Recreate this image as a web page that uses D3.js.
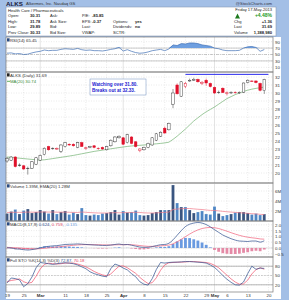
<!DOCTYPE html>
<html>
<head>
<meta charset="utf-8">
<script src="https://cdn.jsdelivr.net/npm/d3@7"></script>
<style>
  body { margin: 0; background: #a3bfe6; }
  svg { display: block; font-family: "Liberation Sans", Arial, sans-serif; }
</style>
</head>
<body>
<svg id="chart" width="289" height="300"></svg>
<script>
// ALKS daily, 19-Feb-2013 .. 17-May-2013 (63 sessions)
const open  = [21.5,21.6,22.0,21.0,20.9,20.6,20.6,21.1,21.6,22.3,23.3,23.1,23.0,22.7,23.3,23.6,23.6,23.2,23.8,23.1,23.2,23.4,23.1,23.2,22.9,23.4,23.9,24.4,24.4,23.8,24.5,23.9,22.8,22.9,23.2,23.5,24.1,24.6,25.6,25.4,28.6,31.0,29.6,30.8,31.5,31.6,31.7,31.2,31.6,31.2,30.7,30.1,30.6,30.0,30.0,30.1,30.0,30.1,31.3,31.5,31.5,31.2,30.31];
const high  = [22.0,22.1,22.1,21.2,21.0,20.8,21.5,22.0,22.3,23.2,23.4,23.2,23.2,23.6,23.9,23.7,23.7,23.9,23.9,23.3,23.4,23.5,23.2,23.3,23.4,24.2,24.6,24.7,24.5,24.9,24.6,24.0,23.1,23.3,23.8,24.5,25.0,25.2,25.8,26.3,30.5,31.2,31.5,31.4,31.8,31.9,31.8,31.5,31.8,31.3,30.8,30.3,30.7,30.2,30.2,30.2,30.2,31.3,31.7,31.6,31.6,31.3,31.78];
const low   = [21.3,21.5,20.7,20.8,20.4,19.8,20.5,21.0,21.5,22.2,22.8,22.9,22.9,22.5,23.2,23.4,23.3,23.1,23.3,22.9,23.1,23.1,22.9,22.9,22.8,23.3,23.8,24.3,23.5,23.7,23.6,23.2,22.6,22.8,23.1,23.4,24.0,24.5,24.9,25.3,28.1,29.8,29.5,30.6,31.4,31.5,31.3,31.0,30.9,30.7,29.9,29.9,30.0,29.7,29.9,29.9,29.9,30.0,31.2,31.4,31.2,30.2,29.89];
const close = [21.8,22.0,20.8,21.0,20.5,20.6,21.4,21.9,22.2,23.1,22.9,23.1,23.05,23.5,23.8,23.5,23.4,23.8,23.3,23.15,23.3,23.2,23.1,23.0,23.3,24.1,24.5,24.6,23.6,24.8,23.7,23.3,23.0,23.2,23.7,24.4,24.9,25.1,25.0,26.2,30.0,29.9,31.4,31.2,31.6,31.7,31.4,31.3,31.25,30.8,30.0,30.1,30.05,30.02,30.1,30.05,30.1,31.25,31.6,31.5,31.3,30.33,31.69];
const ma20  = [22.0,21.95,21.9,21.85,21.8,21.75,21.7,21.65,21.62,21.65,21.72,21.8,21.88,21.96,22.04,22.12,22.2,22.3,22.4,22.5,22.6,22.7,22.78,22.86,22.94,23.02,23.1,23.18,23.25,23.32,23.38,23.42,23.46,23.5,23.55,23.6,23.65,23.7,23.76,23.85,24.2,24.6,25.05,25.5,26.0,26.5,26.9,27.3,27.65,27.95,28.25,28.6,28.95,29.3,29.55,29.8,30.0,30.2,30.35,30.48,30.58,30.66,30.74];

// volume in millions
const volume = [1.5,1.9,2.3,1.4,2.1,2.4,1.6,1.8,2.2,1.9,1.5,2.2,1.4,1.8,2.0,1.3,1.7,1.4,2.6,1.2,1.1,1.3,1.2,1.5,1.6,1.8,2.2,1.3,2.0,1.7,1.8,2.1,1.2,1.1,1.2,1.6,1.8,2.2,2.2,2.2,7.2,3.6,2.8,2.8,2.2,1.6,1.8,2.0,1.4,1.3,2.9,1.5,1.0,1.2,1.4,1.7,1.8,1.8,1.6,1.3,1.5,1.2,1.39];
const volEma = [1.7,1.72,1.74,1.72,1.74,1.78,1.76,1.76,1.8,1.8,1.78,1.8,1.76,1.76,1.78,1.74,1.72,1.7,1.8,1.74,1.68,1.64,1.6,1.6,1.6,1.62,1.68,1.64,1.68,1.68,1.7,1.74,1.7,1.64,1.6,1.6,1.62,1.68,1.72,1.78,2.3,2.4,2.45,2.5,2.5,2.42,2.35,2.3,2.2,2.12,2.1,2.03,1.93,1.85,1.78,1.72,1.66,1.6,1.54,1.47,1.41,1.34,1.28];

const rsi = [54,55,52,53,50,51,55,58,60,64,62,63,63,66,68,67,66,69,65,63,64,62,62,61,63,66,68,72,61,65,60,56,54,55,58,62,64,66,62,67,80,78,84,83,86,86,84,80,78,76,70,68,64,62,62,62,63,70,74,75,72,60,65.45];

const macd   = [0.02,0.0,-0.08,-0.1,-0.15,-0.18,-0.14,-0.08,0.0,0.1,0.14,0.18,0.2,0.25,0.3,0.32,0.33,0.35,0.33,0.3,0.28,0.26,0.24,0.22,0.22,0.25,0.3,0.34,0.28,0.3,0.24,0.16,0.08,0.05,0.06,0.12,0.2,0.28,0.3,0.4,0.7,1.1,1.5,1.85,2.05,2.15,2.2,2.15,2.02,1.82,1.58,1.35,1.12,0.95,0.8,0.68,0.6,0.58,0.56,0.6,0.6,0.5,0.624];
const signal = [0.05,0.04,0.02,0.0,-0.03,-0.06,-0.08,-0.08,-0.06,-0.03,0.01,0.05,0.08,0.12,0.16,0.2,0.23,0.26,0.28,0.29,0.29,0.28,0.28,0.27,0.26,0.26,0.27,0.28,0.28,0.29,0.28,0.25,0.21,0.17,0.14,0.14,0.15,0.18,0.21,0.25,0.36,0.53,0.75,0.98,1.2,1.4,1.56,1.68,1.75,1.77,1.75,1.68,1.57,1.45,1.32,1.2,1.09,1.0,0.93,0.88,0.84,0.78,0.759];
const hist   = [-0.03,-0.04,-0.1,-0.1,-0.12,-0.12,-0.06,0.0,0.06,0.13,0.13,0.13,0.12,0.13,0.14,0.12,0.1,0.09,0.05,0.01,-0.01,-0.02,-0.04,-0.05,-0.04,-0.01,0.03,0.06,0.0,0.01,-0.04,-0.09,-0.13,-0.12,-0.08,-0.02,0.05,0.1,0.09,0.15,0.34,0.57,0.75,0.87,0.85,0.75,0.64,0.47,0.27,0.05,-0.17,-0.33,-0.45,-0.5,-0.52,-0.52,-0.49,-0.42,-0.37,-0.28,-0.24,-0.28,-0.135];

const stoK = [26,42,40,36,14,24,45,75,92,90,88,86,88,90,91,90,88,84,78,72,62,56,52,48,46,72,87,82,74,68,56,46,30,22,19,40,70,92,90,92,93,93,94,95,95,94,93,92,90,84,76,64,50,38,28,20,19,29,56,80,70,74,72.87];
const stoD = [30,34,36,39,30,25,28,48,71,86,90,88,87,88,90,90,90,87,83,78,71,63,57,52,49,55,68,80,81,75,66,57,44,33,24,27,43,67,84,91,92,93,93,94,95,95,94,93,92,89,83,75,63,51,39,29,22,23,35,55,69,75,70.18];

// x axis: session index of each label
const tickIdx    = [0, 4, 8, 14, 19, 24, 28, 33, 38, 43, 48, 50, 53, 58, 63];
const tickLabels = ['19','25','Mar','11','18','25','Apr','8','15','22','29','May','6','13','20'];
const monthIdx   = [8, 28, 50];

const breakout = 32.33;
const breakoutFrom = 43, breakoutTo = 63;

const svg = d3.select('#chart');
const L = 6, R = 273;
const x = d3.scaleLinear().domain([-0.25, 64.1]).range([L, R]);
const idx = d3.range(close.length);
const fs = 4.1;

// white areas
svg.append('rect').attr('x', L).attr('y', 7).attr('width', 270).attr('height', 29)
  .attr('fill', '#fff').attr('stroke', '#8a9bb5').attr('stroke-width', 0.6);
svg.append('rect').attr('x', L).attr('y', 37).attr('width', 275).attr('height', 262).attr('fill', '#fff');

// title row
svg.append('text').attr('x', 6).attr('y', 5.5).attr('font-size', 6.2).attr('font-weight', 'bold')
  .attr('fill', '#1a1a3a').text('ALKS');
svg.append('text').attr('x', 26).attr('y', 5.3).attr('font-size', 4.2).attr('fill', '#333')
  .text('Alkermes, Inc.  Nasdaq GS');
svg.append('text').attr('x', 272).attr('y', 5).attr('font-size', 4.2).attr('fill', '#334')
  .attr('text-anchor', 'end').text('@StockCharts.com');

// info box
const info = svg.append('g').attr('font-size', fs).attr('fill', '#222');
info.append('text').attr('x', 8).attr('y', 11.5).text('Health Care / Pharmaceuticals');
const rowsY = [17, 22.5, 28, 33.5];
const infoCols = [
  {x: 8, vx: 30, items: [['Open:', '30.31'], ['High:', '31.78'], ['Low:', '29.89'], ['Prev Close:', '30.33']]},
  {x: 50, vx: 0, items: [['Ask:', ''], ['Ask Size:', ''], ['Bid:', ''], ['Bid Size:', '']]},
  {x: 82, vx: 92, items: [['P/E:', '-85.85'], ['EPS:', '-0.37'], ['Last:', ''], ['VWAP:', '']]},
  {x: 113, vx: 135, items: [['', ''], ['Options:', 'yes'], ['Dividends:', 'no'], ['SCTR:', '']]}
];
infoCols.forEach(col => {
  col.items.forEach((it, k) => {
    info.append('text').attr('x', col.x).attr('y', rowsY[k]).text(it[0]);
    if (it[1]) info.append('text').attr('x', col.vx).attr('y', rowsY[k]).attr('font-weight', 'bold').text(it[1]);
  });
});
info.append('text').attr('x', 272).attr('y', 11).attr('text-anchor', 'end').text('Friday 17-May-2013');
info.append('path').attr('d', 'M235,18.5 L237.5,13.5 L240,18.5 Z').attr('fill', '#1e7a1e');
info.append('text').attr('x', 272).attr('y', 17).attr('text-anchor', 'end').attr('font-weight', 'bold')
  .attr('fill', '#1e9a1e').attr('font-size', 5).text('+4.48%');
[['Chg', '+1.36'], ['Last', '31.69'], ['Volume', '1,388,980']].forEach((r, k) => {
  info.append('text').attr('x', 234).attr('y', 22.5 + k * 5.5).text(r[0]);
  info.append('text').attr('x', 272).attr('y', 22.5 + k * 5.5).attr('text-anchor', 'end')
    .attr('font-weight', 'bold').text(r[1]);
});

// panels
function makePanel(top, bottom, domain, ticks, fmt, grid) {
  const y = d3.scaleLinear().domain(domain).range([bottom, top]);
  const g = svg.append('g');
  // vertical grid
  tickIdx.forEach(t => {
    const isMonth = monthIdx.includes(t);
    g.append('line').attr('x1', x(t)).attr('x2', x(t)).attr('y1', top).attr('y2', bottom)
      .attr('stroke', isMonth ? '#c8c8c8' : '#d4d4d4').attr('stroke-width', 0.5)
      .attr('stroke-dasharray', isMonth ? null : '1,1.5');
  });
  (grid || ticks).forEach(v => {
    g.append('line').attr('x1', L).attr('x2', R).attr('y1', y(v)).attr('y2', y(v))
      .attr('stroke', '#d4d4d4').attr('stroke-width', 0.5).attr('stroke-dasharray', '1,1.5');
  });
  const ax = d3.axisRight(y).tickValues(ticks).tickSize(0).tickPadding(2).tickFormat(fmt);
  const a = svg.append('g').attr('transform', `translate(${R},0)`).call(ax);
  a.select('.domain').remove();
  a.selectAll('text').attr('font-size', 4.4).attr('fill', '#333').attr('font-family', 'Liberation Sans, Arial, sans-serif');
  const frame = () => svg.append('rect').attr('x', L).attr('y', top).attr('width', R - L).attr('height', bottom - top)
    .attr('fill', 'none').attr('stroke', '#7a7a7a').attr('stroke-width', 0.7);
  return {y, g, frame, top};
}

function legend(g, top, parts, icon) {
  const t = g.append('text').attr('x', 10).attr('y', top + 4.6).attr('font-size', 4.3);
  parts.forEach(p => t.append('tspan').attr('fill', p[1]).text(p[0]));
  g.append('rect').attr('x', 7).attr('y', top + 1.3).attr('width', 2.6).attr('height', 3.2).attr('fill', icon || '#2a4a80');
}

// ---- RSI
const pR = makePanel(37, 72, [-4.7, 104.7], [10, 30, 50, 70, 90], d3.format('d'));
[70, 30].forEach(v => pR.g.append('line').attr('x1', L).attr('x2', R).attr('y1', pR.y(v)).attr('y2', pR.y(v))
  .attr('stroke', '#999').attr('stroke-width', 0.5));
pR.g.append('line').attr('x1', L).attr('x2', R).attr('y1', pR.y(50)).attr('y2', pR.y(50))
  .attr('stroke', '#999').attr('stroke-width', 0.5).attr('stroke-dasharray', '3,1,1,1');
pR.g.append('path').datum(idx)
  .attr('d', d3.area().x(i => x(i)).y0(pR.y(70)).y1(i => pR.y(Math.max(rsi[i], 70))))
  .attr('fill', '#6e9fe0');
pR.g.append('path').datum(idx)
  .attr('d', d3.line().x(i => x(i)).y(i => pR.y(rsi[i])))
  .attr('fill', 'none').attr('stroke', '#4170b5').attr('stroke-width', 0.7);
legend(pR.g, 37, [['RSI(14) 65.45', '#333']]);
pR.frame();

// ---- Price
const pP = makePanel(72, 183, [18.75, 32.625], d3.range(20, 33), d3.format('d'));
pP.g.append('path').datum(idx)
  .attr('d', d3.line().x(i => x(i)).y(i => pP.y(ma20[i])))
  .attr('fill', 'none').attr('stroke', '#5aa55a').attr('stroke-width', 0.6);
const bw = 2.6;
const candles = pP.g.selectAll('g.c').data(idx).enter().append('g');
const isUp = i => close[i] >= (i ? close[i - 1] : open[i]);
const col = i => isUp(i) ? '#333' : '#e0102a';
candles.append('line')
  .attr('x1', i => x(i)).attr('x2', i => x(i))
  .attr('y1', i => pP.y(high[i])).attr('y2', i => pP.y(low[i]))
  .attr('stroke', col).attr('stroke-width', 0.5);
candles.append('rect')
  .attr('x', i => x(i) - bw / 2).attr('width', bw)
  .attr('y', i => pP.y(Math.max(open[i], close[i])))
  .attr('height', i => Math.max(0.5, Math.abs(pP.y(open[i]) - pP.y(close[i]))))
  .attr('fill', i => close[i] > open[i] ? '#fff' : (isUp(i) ? '#333' : '#e0102a'))
  .attr('stroke', col).attr('stroke-width', 0.45);
pP.g.append('line')
  .attr('x1', x(breakoutFrom)).attr('x2', x(breakoutTo))
  .attr('y1', pP.y(breakout)).attr('y2', pP.y(breakout))
  .attr('stroke', '#2a2aee').attr('stroke-width', 1);
const note = pP.g.append('g');
note.append('rect').attr('x', 90).attr('y', 79).attr('width', 56).attr('height', 16)
  .attr('fill', '#fff').attr('stroke', '#7090c0').attr('stroke-width', 0.5);
note.append('text').attr('x', 92).attr('y', 85.5).attr('font-size', 4.6).attr('fill', '#1a1ad0')
  .attr('font-weight', 'bold').text('Watching over 31.80.');
note.append('text').attr('x', 92).attr('y', 92).attr('font-size', 4.6).attr('fill', '#1a1ad0')
  .attr('font-weight', 'bold').text('Breaks out at 32.33.');
legend(pP.g, 72, [['ALKS (Daily) 31.69', '#333']], '#222');
pP.g.append('line').attr('x1', 7).attr('x2', 10).attr('y1', 81.3).attr('y2', 81.3).attr('stroke', '#3a9a3a').attr('stroke-width', 0.8);
pP.g.append('text').attr('x', 10).attr('y', 82.8).attr('font-size', 4.3).attr('fill', '#3a8a3a').text('MA(20) 30.74');
pP.frame();

// ---- Volume
const pV = makePanel(183, 221, [0, 7.6], [2, 4, 6], d => d + 'M', [2, 4, 6]);
pV.g.selectAll('rect.v').data(idx).enter().append('rect')
  .attr('x', i => x(i) - 1.5).attr('width', 3)
  .attr('y', i => pV.y(volume[i])).attr('height', i => pV.y(0) - pV.y(volume[i]))
  .attr('fill', i => isUp(i) ? '#3a5580' : '#4f86c4')
  .attr('stroke', '#fff').attr('stroke-width', 0.2);
pV.g.append('path').datum(idx)
  .attr('d', d3.line().x(i => x(i)).y(i => pV.y(volEma[i])))
  .attr('fill', 'none').attr('stroke', '#f07a8a').attr('stroke-width', 0.7);
legend(pV.g, 183, [['Volume 1.39M, ', '#333'], ['EMA(20) 1.28M', '#333']]);
pV.frame();

// ---- MACD
const pM = makePanel(221, 257, [-0.78, 2.33], [-0.5, 0, 0.5, 1, 1.5, 2], d3.format('.1f'));
pM.g.append('line').attr('x1', L).attr('x2', R).attr('y1', pM.y(0)).attr('y2', pM.y(0))
  .attr('stroke', '#bbb').attr('stroke-width', 0.4);
pM.g.selectAll('rect.h').data(idx).enter().append('rect')
  .attr('x', i => x(i) - 1.4).attr('width', 2.8)
  .attr('y', i => pM.y(Math.max(0, hist[i])))
  .attr('height', i => Math.abs(pM.y(hist[i]) - pM.y(0)))
  .attr('fill', i => hist[i] >= 0 ? '#6a9ae0' : '#e48aa6');
pM.g.append('path').datum(idx)
  .attr('d', d3.line().curve(d3.curveMonotoneX).x(i => x(i)).y(i => pM.y(signal[i])))
  .attr('fill', 'none').attr('stroke', '#f0607a').attr('stroke-width', 0.7);
pM.g.append('path').datum(idx)
  .attr('d', d3.line().curve(d3.curveMonotoneX).x(i => x(i)).y(i => pM.y(macd[i])))
  .attr('fill', 'none').attr('stroke', '#2c4d8c').attr('stroke-width', 0.7);
legend(pM.g, 221, [['MACD(8,17,9) ', '#333'], ['0.624', '#2c4d8c'], [', ', '#333'], ['0.759', '#e04060'], [', ', '#333'], ['-0.135', '#6a9ae0']]);
pM.frame();

// ---- Full stochastics
const pS = makePanel(257, 292, [-3.2, 109.7], [20, 50, 80], d3.format('d'));
[80, 20].forEach(v => pS.g.append('line').attr('x1', L).attr('x2', R).attr('y1', pS.y(v)).attr('y2', pS.y(v))
  .attr('stroke', '#888').attr('stroke-width', 0.6));
pS.g.append('line').attr('x1', L).attr('x2', R).attr('y1', pS.y(50)).attr('y2', pS.y(50))
  .attr('stroke', '#aaa').attr('stroke-width', 0.5).attr('stroke-dasharray', '2,1');
pS.g.append('path').datum(idx)
  .attr('d', d3.line().x(i => x(i)).y(i => pS.y(stoD[i])))
  .attr('fill', 'none').attr('stroke', '#f0506a').attr('stroke-width', 0.7);
pS.g.append('path').datum(idx)
  .attr('d', d3.line().x(i => x(i)).y(i => pS.y(stoK[i])))
  .attr('fill', 'none').attr('stroke', '#2c4d8c').attr('stroke-width', 0.7);
legend(pS.g, 257, [['Full STO %K(14,3) %D(3) ', '#333'], ['72.87', '#2c4d8c'], [', ', '#333'], ['70.18', '#e04060']]);
pS.frame();

// x axis
const xa = svg.append('g').attr('transform', 'translate(0,292)')
  .call(d3.axisBottom(x).tickValues(tickIdx).tickSize(0).tickPadding(2).tickFormat((d, k) => tickLabels[k]));
xa.select('.domain').remove();
xa.selectAll('text').attr('font-size', 4.4).attr('fill', '#333')
  .attr('font-family', 'Liberation Sans, Arial, sans-serif')
  .attr('font-weight', d => monthIdx.includes(d) ? 'bold' : null);
</script>
</body>
</html>
